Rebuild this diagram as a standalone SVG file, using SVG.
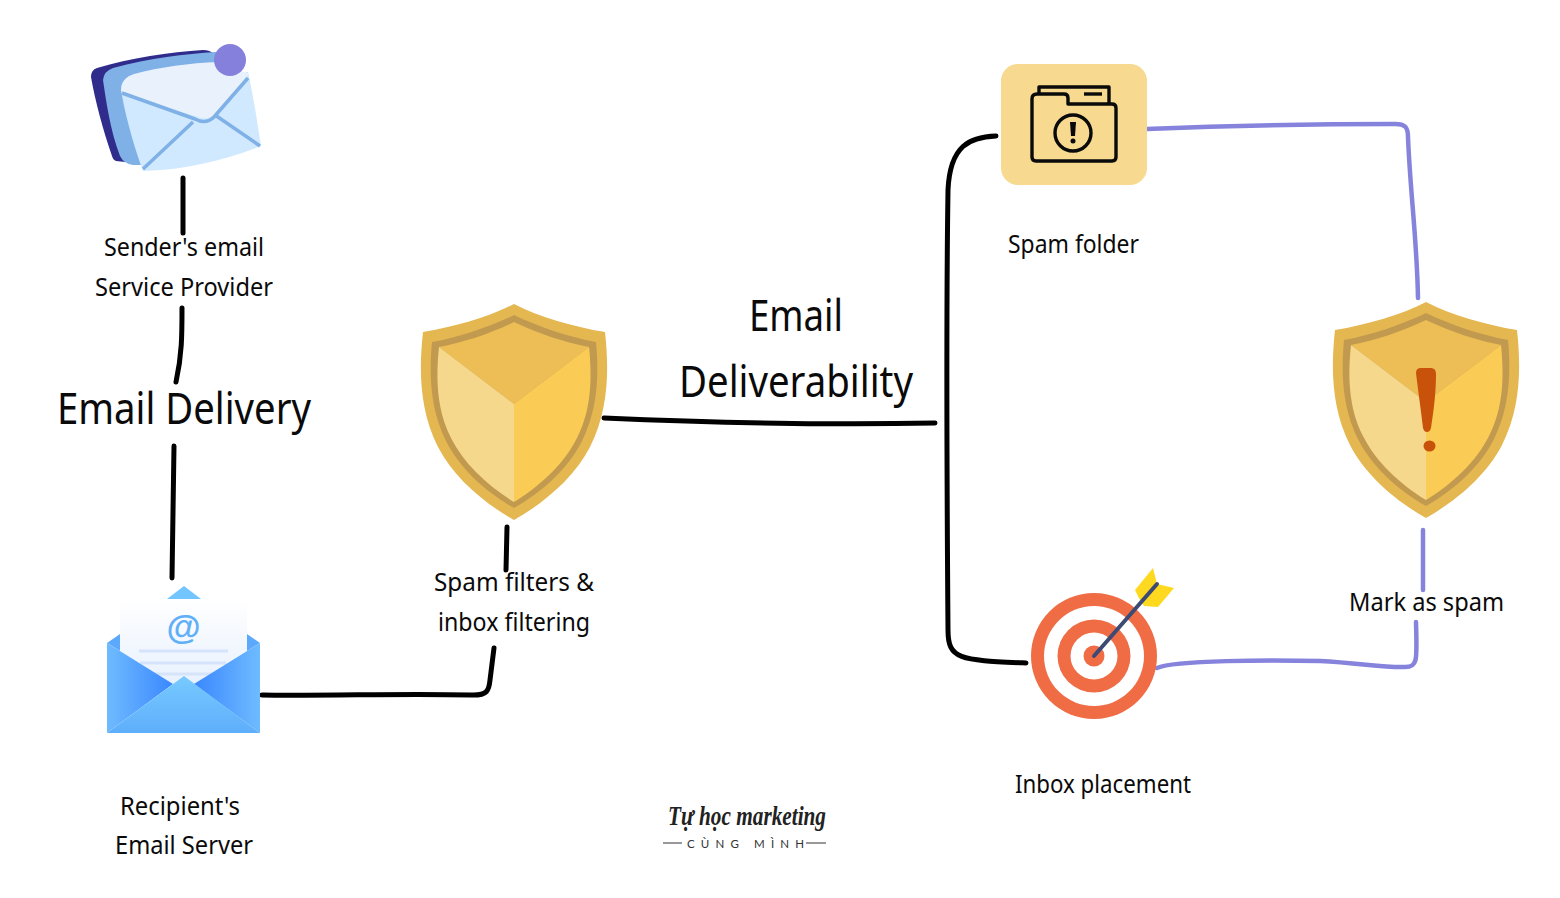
<svg xmlns="http://www.w3.org/2000/svg" width="1560" height="898" viewBox="0 0 1560 898">
<style>
.t{font-family:"Noto Sans","Open Sans",sans-serif;fill:#0a0a0a;font-size:26px}
.b{font-size:43px}
.k{fill:none;stroke:#000;stroke-width:5;stroke-linecap:round;stroke-linejoin:round}
.p{fill:none;stroke:#8583DC;stroke-width:4.5;stroke-linecap:round;stroke-linejoin:round}
.ic{fill:none;stroke:#0a0a0a;stroke-width:3.4;stroke-linejoin:round}
</style>
<defs>
<g id="shield">
<path fill="#E4B750" d="M0 0C-25 13-60 23-91 28C-95 65-95 105-76 143C-60 174-30 199 0 216C30 199 60 174 76 143C95 105 95 65 91 28C60 23 25 13 0 0Z"/>
<path fill="#C19A50" d="M0 11C-25 23-55 33-82 38C-85 70-84 105-68 137C-54 165-28 188 0 204C28 188 54 165 68 137C84 105 85 70 82 38C55 33 25 23 0 11Z"/>
<path fill="#ECBE55" d="M0 18C-25 30-50 38-75 43L0 100L75 43C50 38 25 30 0 18Z"/>
<path fill="#F6D88C" d="M-75 43C-78 72-78 105-63 134C-50 160-26 182 0 198V100Z"/>
<path fill="#FBCC55" d="M75 43C78 72 78 105 63 134C50 160 26 182 0 198V100Z"/>
</g>
<linearGradient id="gl" x1="0" x2="1" y1="0" y2="0"><stop offset="0" stop-color="#6FBBFF"/><stop offset="1" stop-color="#3A87FF"/></linearGradient>
<linearGradient id="gr" x1="1" x2="0" y1="0" y2="0"><stop offset="0" stop-color="#6FBBFF"/><stop offset="1" stop-color="#3A87FF"/></linearGradient>
<linearGradient id="gf" x1="0" x2="0" y1="0" y2="1"><stop offset="0" stop-color="#77CAFF"/><stop offset="1" stop-color="#5EAEFB"/></linearGradient>
<linearGradient id="gp" x1="0" x2="0" y1="0" y2="1"><stop offset="0" stop-color="#FFFFFF"/><stop offset="1" stop-color="#E6F0FE"/></linearGradient>
</defs>

<g id="connectors">
<path class="k" d="M183 178L183 233"/>
<path class="k" d="M182 308C182 335 182 355 176 382"/>
<path class="k" d="M174 446L172 578"/>
<path class="k" d="M262 695C330 696 410 693 470 695C488 696 489 690 490 680L494 648"/>
<path class="k" d="M507 527L506 570"/>
<path class="k" d="M604 418C720 423 830 425 935 423"/>
<path class="k" d="M996 136C970 137 950 145 948 190C946 320 947 500 948 630C948 660 960 660 1026 663"/>
<path class="p" d="M1147 129C1220 126 1320 124 1395 124C1405 124 1408 127 1408 137C1410 190 1417 240 1418 298"/>
<path class="p" d="M1157 668C1175 660 1270 660 1320 661C1360 663 1385 668 1405 667C1418 667 1417 660 1416 622"/>
<path class="p" d="M1423 530L1423 590"/>
</g>

<g id="sender-icon">
<path fill="#302C8C" d="M91 77Q91 70 97 68C130 58 170 52 203 50Q210 50 214 54L125 162L116 161Q113 160 112 156C103 130 95 100 91 77Z"/>
<path fill="#7FB0E6" d="M103 80Q104 71 113 68C150 58 185 54 216 52L240 70L143 165L133 165Q124 164 120 156C110 130 106 100 103 80Z"/>
<path fill="#D0E9FF" d="M121 90L248 72C253 95 257 120 261 146C225 160 185 170 143 171C135 150 125 115 121 90Z"/>
<path fill="#E9F2FC" d="M121 90Q121 78 134 74C160 67 190 63 218 62L249 74L213 116Q206 120 198 117L122 92Z"/>
<path fill="none" stroke="#7FB0E6" stroke-width="3.500" stroke-linejoin="round" d="M122 93L195 119Q206 125 214 117L248 78M143 169L193 122M215 115L260 146"/>
<circle cx="230" cy="60" r="16" fill="#8580DC"/>
</g>

<g id="recipient-icon">
<path fill="#73C5FF" d="M184 586L201 599H167Z"/>
<path fill="#5CA9FC" d="M107 643L120 634H247L260 643L184 690Z"/>
<path fill="url(#gp)" d="M120 599H247V652L184 690L120 652Z"/>
<text x="183.500" y="639" text-anchor="middle" font-family="Liberation Sans, sans-serif" font-weight="700" font-size="35" fill="#5FB0F8">@</text>
<path stroke="#D5E3FB" stroke-width="3" d="M139 651H228M140 663H226M152 674H216"/>
<path fill="url(#gl)" d="M107 643L173 684L107 733Z"/>
<path fill="url(#gr)" d="M260 643L194 684L260 733Z"/>
<path fill="url(#gf)" d="M184 676L260 733H107Z"/>
</g>

<g id="spam-shield"><use href="#shield" x="514" y="304"/></g>

<g id="spam-folder">
<rect x="1001" y="64" width="146" height="121" rx="17" fill="#F7D98F"/>
<path class="ic" d="M1039 94V87H1109V103"/>
<path class="ic" d="M1084 94H1102"/>
<path class="ic" d="M1037 94H1064Q1068 94 1068 98V104H1112Q1116 104 1116 108V157Q1116 161 1112 161H1036Q1032 161 1032 157V99Q1032 94 1037 94Z"/>
<circle class="ic" cx="1073" cy="133" r="18"/>
<path fill="#0a0a0a" d="M1070 122H1076L1075 136H1071Z"/>
<circle cx="1073" cy="141" r="2.500" fill="#0a0a0a"/>
</g>

<g id="inbox-target">
<circle cx="1094" cy="656" r="63" fill="#EF6C45"/>
<circle cx="1094" cy="656" r="50" fill="#fff"/>
<circle cx="1094" cy="656" r="36.500" fill="#EF6C45"/>
<circle cx="1094" cy="656" r="23.500" fill="#fff"/>
<circle cx="1094" cy="656" r="10.500" fill="#EF6C45"/>
<path fill="#FFD91F" d="M1153 568L1157 584L1174 588L1158 607L1144 606L1140 600L1135 590Z"/>
<path stroke="#3D4A73" stroke-width="4" stroke-linecap="round" d="M1094 656L1157 584"/>
</g>

<g id="mark-shield">
<use href="#shield" x="1426" y="302"/>
<path fill="#C8520A" d="M1416 373Q1416 368 1421 368H1431Q1436 368 1436 374C1436 395 1433 415 1431 428Q1430 432 1427 432Q1424 432 1423 428C1421 410 1418 390 1416 373Z"/>
<ellipse cx="1429.500" cy="446" rx="6" ry="5.500" fill="#C8520A"/>
</g>

<g id="labels">
<text class="t" x="104" y="256" textLength="160" lengthAdjust="spacingAndGlyphs">Sender's email</text>
<text class="t" x="95" y="296" textLength="178" lengthAdjust="spacingAndGlyphs">Service Provider</text>
<text class="t b" x="57" y="424" textLength="254" lengthAdjust="spacingAndGlyphs">Email Delivery</text>
<text class="t" x="120" y="815" textLength="120" lengthAdjust="spacingAndGlyphs">Recipient's</text>
<text class="t" x="115" y="854" textLength="138" lengthAdjust="spacingAndGlyphs">Email Server</text>
<text class="t" x="434" y="591" textLength="160" lengthAdjust="spacingAndGlyphs">Spam filters &amp;</text>
<text class="t" x="438" y="631" textLength="152" lengthAdjust="spacingAndGlyphs">inbox filtering</text>
<text class="t b" x="749" y="331" textLength="94" lengthAdjust="spacingAndGlyphs">Email</text>
<text class="t b" x="679" y="397" textLength="234" lengthAdjust="spacingAndGlyphs">Deliverability</text>
<text class="t" x="1008" y="253" textLength="131" lengthAdjust="spacingAndGlyphs">Spam folder</text>
<text class="t" x="1015" y="793" textLength="176" lengthAdjust="spacingAndGlyphs">Inbox placement</text>
<text class="t" x="1349" y="611" textLength="155" lengthAdjust="spacingAndGlyphs">Mark as spam</text>
</g>

<g id="logo">
<text x="668" y="825" textLength="158" lengthAdjust="spacingAndGlyphs" font-family="Liberation Serif, serif" font-style="italic" font-weight="700" font-size="27" fill="#222">Tự học marketing</text>
<text x="687" y="848" textLength="117" font-family="Lato, sans-serif" font-size="11.500" fill="#333">CÙNG MÌNH</text>
<path stroke="#333" stroke-width="1.200" d="M663 843H682M806 843H826"/>
</g>
</svg>
